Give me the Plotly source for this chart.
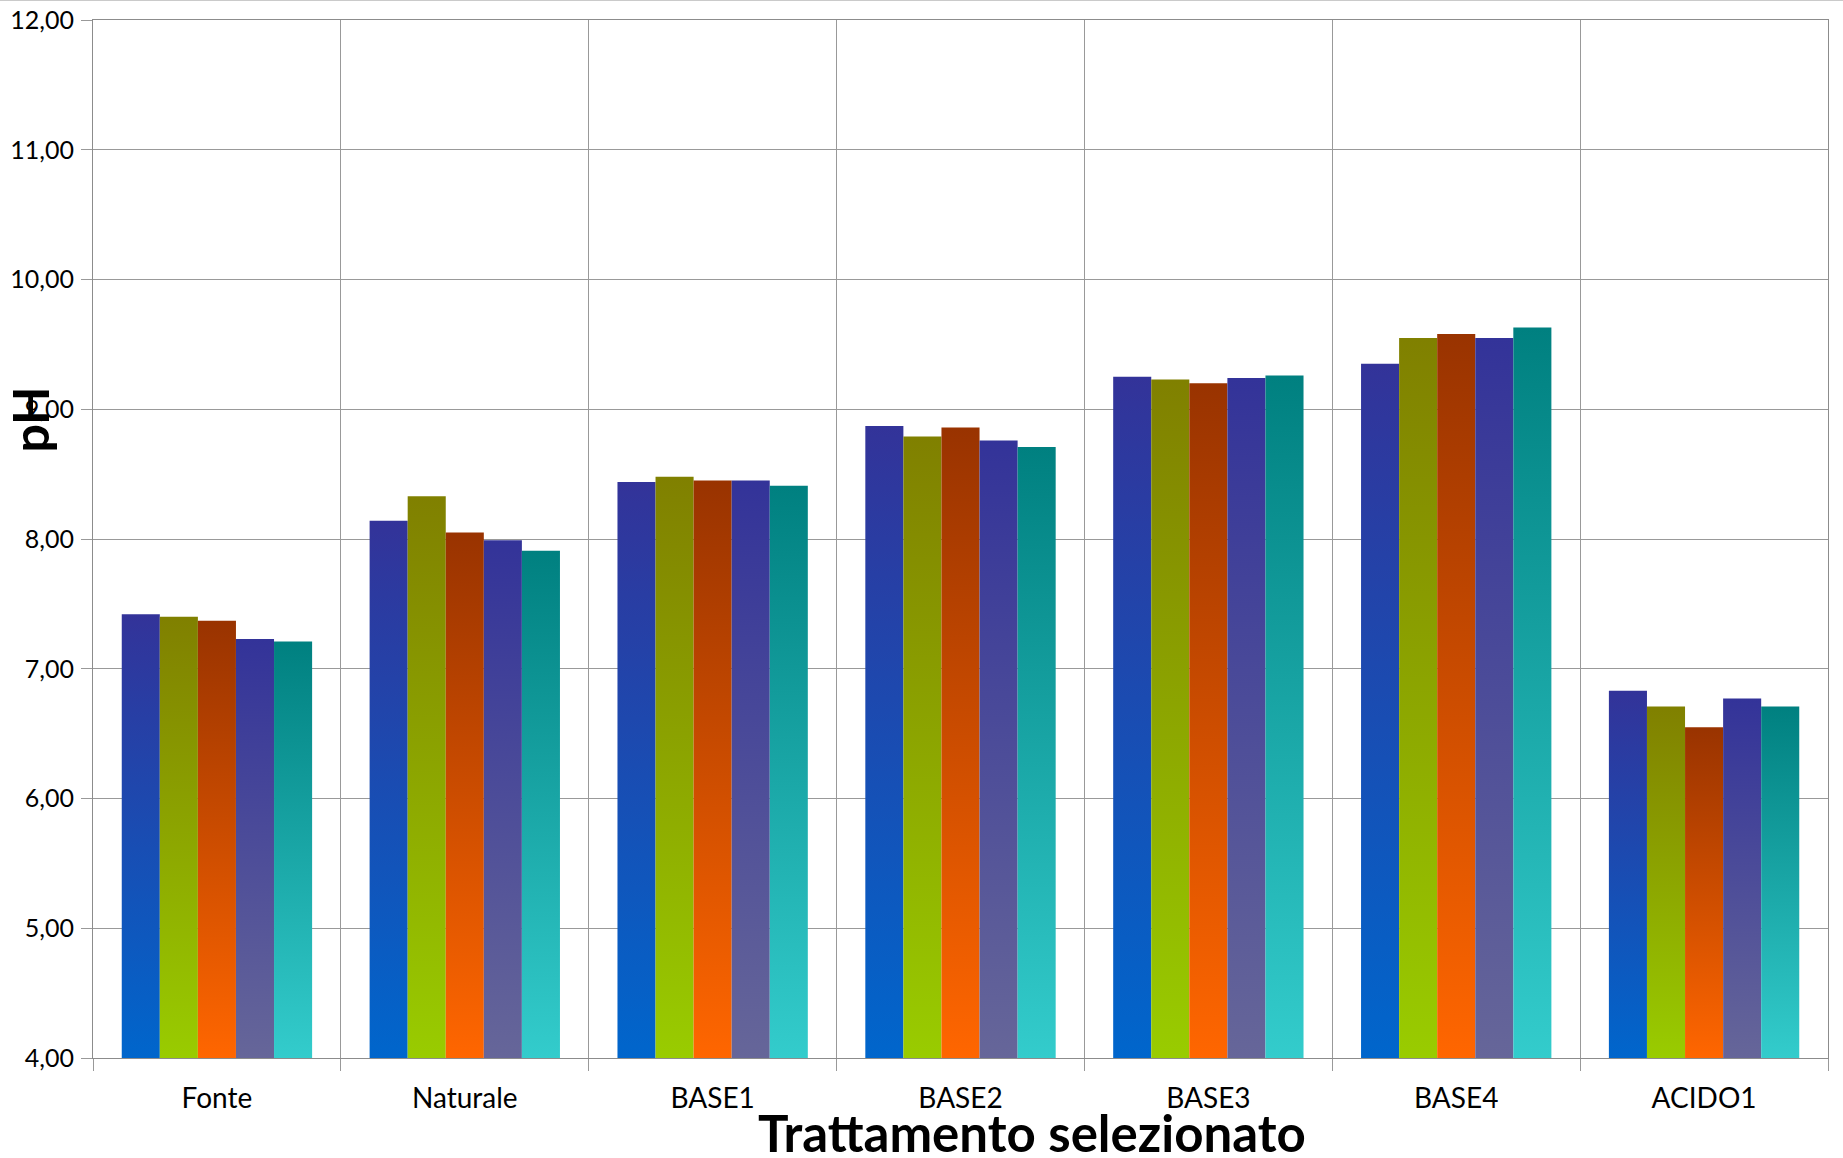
import plotly.graph_objects as go

# pH per trattamento, cinque misure per gruppo
categorie = ["Fonte", "Naturale", "BASE1", "BASE2", "BASE3", "BASE4", "ACIDO1"]
misura_1 = [7.42, 8.14, 8.44, 8.87, 9.25, 9.35, 6.83]
misura_2 = [7.40, 8.33, 8.48, 8.79, 9.23, 9.55, 6.71]
misura_3 = [7.37, 8.05, 8.45, 8.86, 9.20, 9.58, 6.55]
misura_4 = [7.23, 7.99, 8.45, 8.76, 9.24, 9.55, 6.77]
misura_5 = [7.21, 7.91, 8.41, 8.71, 9.26, 9.63, 6.71]
serie = [misura_1, misura_2, misura_3, misura_4, misura_5]

# gradient colours: (bottom, top) for each series
gradienti = [
    ("#0066CC", "#333399"),
    ("#99CC00", "#808000"),
    ("#FF6600", "#993300"),
    ("#666699", "#333399"),
    ("#33CCCC", "#008080"),
]

Y_MIN, Y_MAX = 4, 12
BARGAP = 0.232
larghezza = (1 - BARGAP) / len(serie)

fig = go.Figure()

# each bar is a filled rectangle so it can carry a vertical gradient
for j, (valori, (c_basso, c_alto)) in enumerate(zip(serie, gradienti)):
    for i, v in enumerate(valori):
        x0 = i - 0.5 + BARGAP / 2 + j * larghezza
        x1 = x0 + larghezza
        fig.add_trace(go.Scatter(
            x=[x0, x1, x1, x0, x0],
            y=[Y_MIN, Y_MIN, v, v, Y_MIN],
            mode="lines",
            line=dict(width=0, color=c_alto),
            fill="toself",
            fillgradient=dict(type="vertical",
                              colorscale=[[0, c_basso], [1, c_alto]]),
            showlegend=False,
            hovertemplate=f"{categorie[i]}: %{{y:.2f}}<extra></extra>",
        ))

GRIGIO = "#999999"
FONT = "Lato"

fig.update_layout(
    width=1843, height=1158,
    margin=dict(l=93, r=15, t=20, b=100),
    paper_bgcolor="white",
    plot_bgcolor="white",
    separators=",.",
    font=dict(family=FONT, color="black"),
    xaxis=dict(
        range=[-0.5, len(categorie) - 0.5],
        tickmode="array",
        tickvals=list(range(len(categorie))),
        ticktext=categorie,
        ticks="",
        showgrid=False,
        zeroline=False,
        automargin=False,
        showline=True, linecolor="#8c8c8c", linewidth=1, mirror=True,
        tickfont=dict(size=28, family=FONT),
        ticklabelstandoff=15,
        minor=dict(tickmode="linear", tick0=-0.5, dtick=1,
                   ticks="outside", ticklen=12, tickcolor=GRIGIO,
                   showgrid=True, gridcolor=GRIGIO, gridwidth=1),
    ),
    yaxis=dict(
        range=[Y_MIN, Y_MAX],
        dtick=1,
        tickformat=".2f",
        ticks="outside", ticklen=11, tickcolor=GRIGIO,
        showgrid=True, gridcolor=GRIGIO, gridwidth=1,
        zeroline=False,
        automargin=False,
        showline=True, linecolor="#8c8c8c", linewidth=1, mirror=True,
        tickfont=dict(size=25, family=FONT),
        ticklabelstandoff=2,
    ),
    annotations=[
        dict(text="<b>Trattamento selezionato</b>", xref="paper", yref="paper",
             x=0.541, y=-0.0715, xanchor="center", yanchor="middle",
             showarrow=False, font=dict(size=51, family=FONT, color="black")),
        dict(text="<b>pH</b>", xref="paper", yref="paper",
             x=-0.036, y=0.6146, xanchor="center", yanchor="middle",
             textangle=-90, showarrow=False,
             font=dict(size=50, family=FONT, color="black")),
    ],
    shapes=[
        dict(type="line", xref="paper", yref="paper",
             x0=-0.06, x1=1.01, y0=1.019, y1=1.019,
             line=dict(color="#bbbbbb", width=1)),
    ],
)

fig.write_html("out.html")
